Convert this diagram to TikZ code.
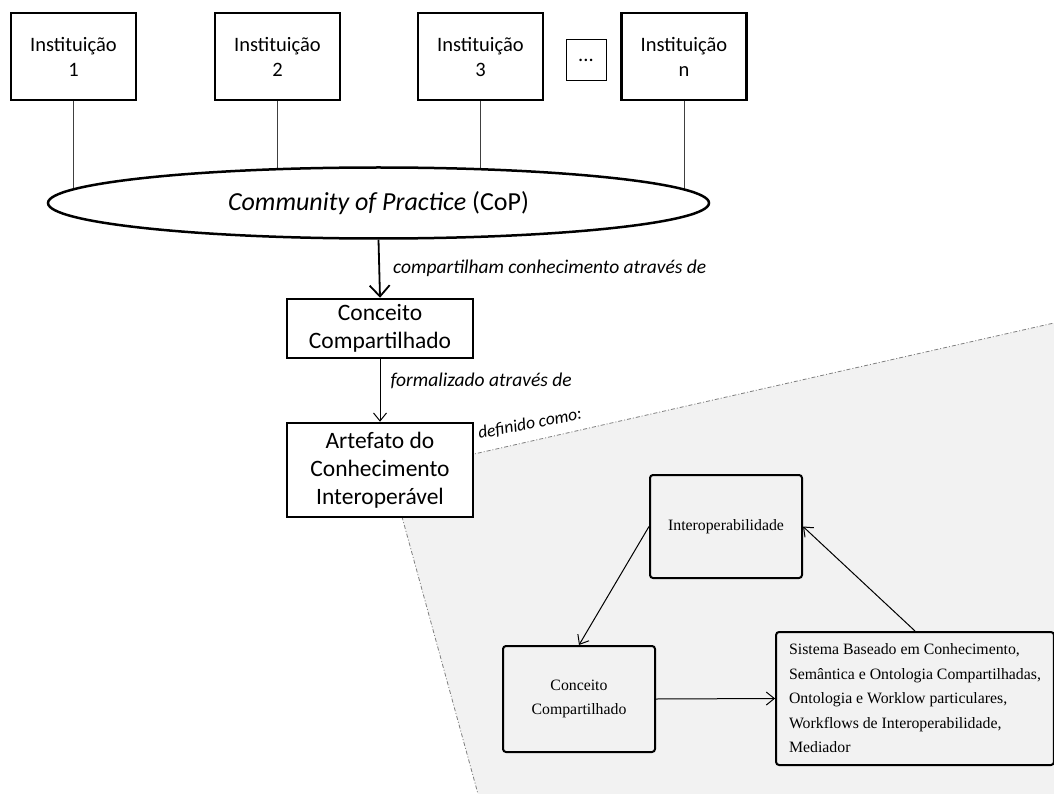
\documentclass[tikz,border=0pt]{standalone}
\usepackage{fontspec}
\setmainfont{Carlito}
\newfontfamily\tnr{Liberation Serif}
\usetikzlibrary{arrows.meta,shapes.geometric,backgrounds}

\definecolor{zonegray}{HTML}{F2F2F2}
\definecolor{edgegray}{HTML}{7F7F7F}

\begin{document}
\begin{tikzpicture}[x=1pt,y=-1pt,
  inst/.style={draw,line width=2.5pt,minimum width=125pt,minimum height=87pt,
    inner sep=0pt,align=center,font=\fontsize{20.5}{25}\selectfont},
  bigbox/.style={draw,line width=2.5pt,fill=white,minimum width=186pt,inner sep=0pt,
    align=center,font=\fontsize{23.5}{28}\selectfont},
  lab/.style={font=\fontsize{19.5}{22}\selectfont\itshape,inner sep=0pt},
  link/.style={line width=1pt,black!75},
  thickarrow/.style={line width=1.8pt,-{Straight Barb[length=11pt,width=20pt]}},
  thinarrow/.style={line width=1pt,-{Straight Barb[length=8pt,width=13pt]}},
  ibox/.style={draw,line width=2pt,rounded corners=3pt,inner sep=0pt,
    font=\tnr\fontsize{15.8}{24.5}\selectfont},
  zone/.style={draw=edgegray,line width=0.8pt,dash pattern=on 4pt off 2pt on 1pt off 2pt}
]
\useasboundingbox (0,0) rectangle (1054,794);

% institutions
\node[inst] (i1) at (73.5,56.5) {Instituição\\1};
\node[inst] (i2) at (277.5,56.5) {Instituição\\2};
\node[inst] (i3) at (480.5,56.5) {Instituição\\3};
\node[draw,line width=1pt,minimum width=40pt,minimum height=41pt,inner sep=0pt,
  font=\fontsize{20.5}{25}\selectfont] (dots) at (586,60.5) {...};
\node[inst] (in) at (684,56.5) {Instituição\\n};

% community of practice
\node[ellipse,draw,fill=white,line width=2.5pt,minimum width=661pt,minimum height=71pt,
  inner sep=0pt,font=\fontsize{26}{30}\selectfont] (cop) at (378.5,203)
  {\textit{Community of Practice} (CoP)};

\begin{scope}[on background layer]
  \draw[link] (i1.south) -- (i1.south |- cop.center);
  \draw[link] (i2.south) -- (i2.south |- cop.center);
  \draw[link] (i3.south) -- (i3.south |- cop.center);
  \draw[link] (in.south) -- (in.south |- cop.center);
\end{scope}

% shared concept and artefact
\node[bigbox,minimum height=59pt] (conc) at (380,328.5) {Conceito\\Compartilhado};
\node[bigbox,minimum height=94pt] (art) at (380,470) {Artefato do\\Conhecimento\\Interoperável};

\draw[thickarrow] (cop.south) -- node[lab,midway,anchor=west,xshift=13pt]
  {compartilham conhecimento através de} (conc.north);
\draw[thinarrow] (conc.south) -- node[lab,pos=0.34,anchor=west,xshift=10pt]
  {formalizado através de} (art.north);

\node[lab,font=\fontsize{17.5}{20}\selectfont\itshape,rotate=11] (def) at (530,424) {definido como:};

% definition zone
\coordinate (za) at (390,473);
\coordinate (zb) at (1054,323);
\coordinate (zc) at (1054,794);
\coordinate (zd) at (478,794);
\begin{scope}[on background layer]
  \fill[zonegray] (za) -- (zb) -- (zc) -- (zd) -- cycle;
  \draw[zone] (za) -- (zb);
  \draw[zone] (za) -- (zd);
\end{scope}

% interoperability cycle
\node[ibox,minimum width=152pt,minimum height=103pt] (inter) at (726,526.5) {Interoperabilidade};
\node[ibox,minimum width=152pt,minimum height=106pt,align=center] (conc2) at (579,699)
  {Conceito\\Compartilhado};
\node[ibox,minimum width=276pt,minimum height=133pt,align=left,inner xsep=13pt] (sys) at (915,698.5)
  {Sistema Baseado em Conhecimento,\\Semântica e Ontologia Compartilhadas,\\
   Ontologia e Worklow particulares,\\Workflows de Interoperabilidade,\\Mediador};

\draw[thinarrow] (inter.west) -- (conc2.north);
\draw[thinarrow] (conc2.east) -- (sys.west);
\draw[thinarrow] (sys.north) -- (inter.east);
\end{tikzpicture}
\end{document}
